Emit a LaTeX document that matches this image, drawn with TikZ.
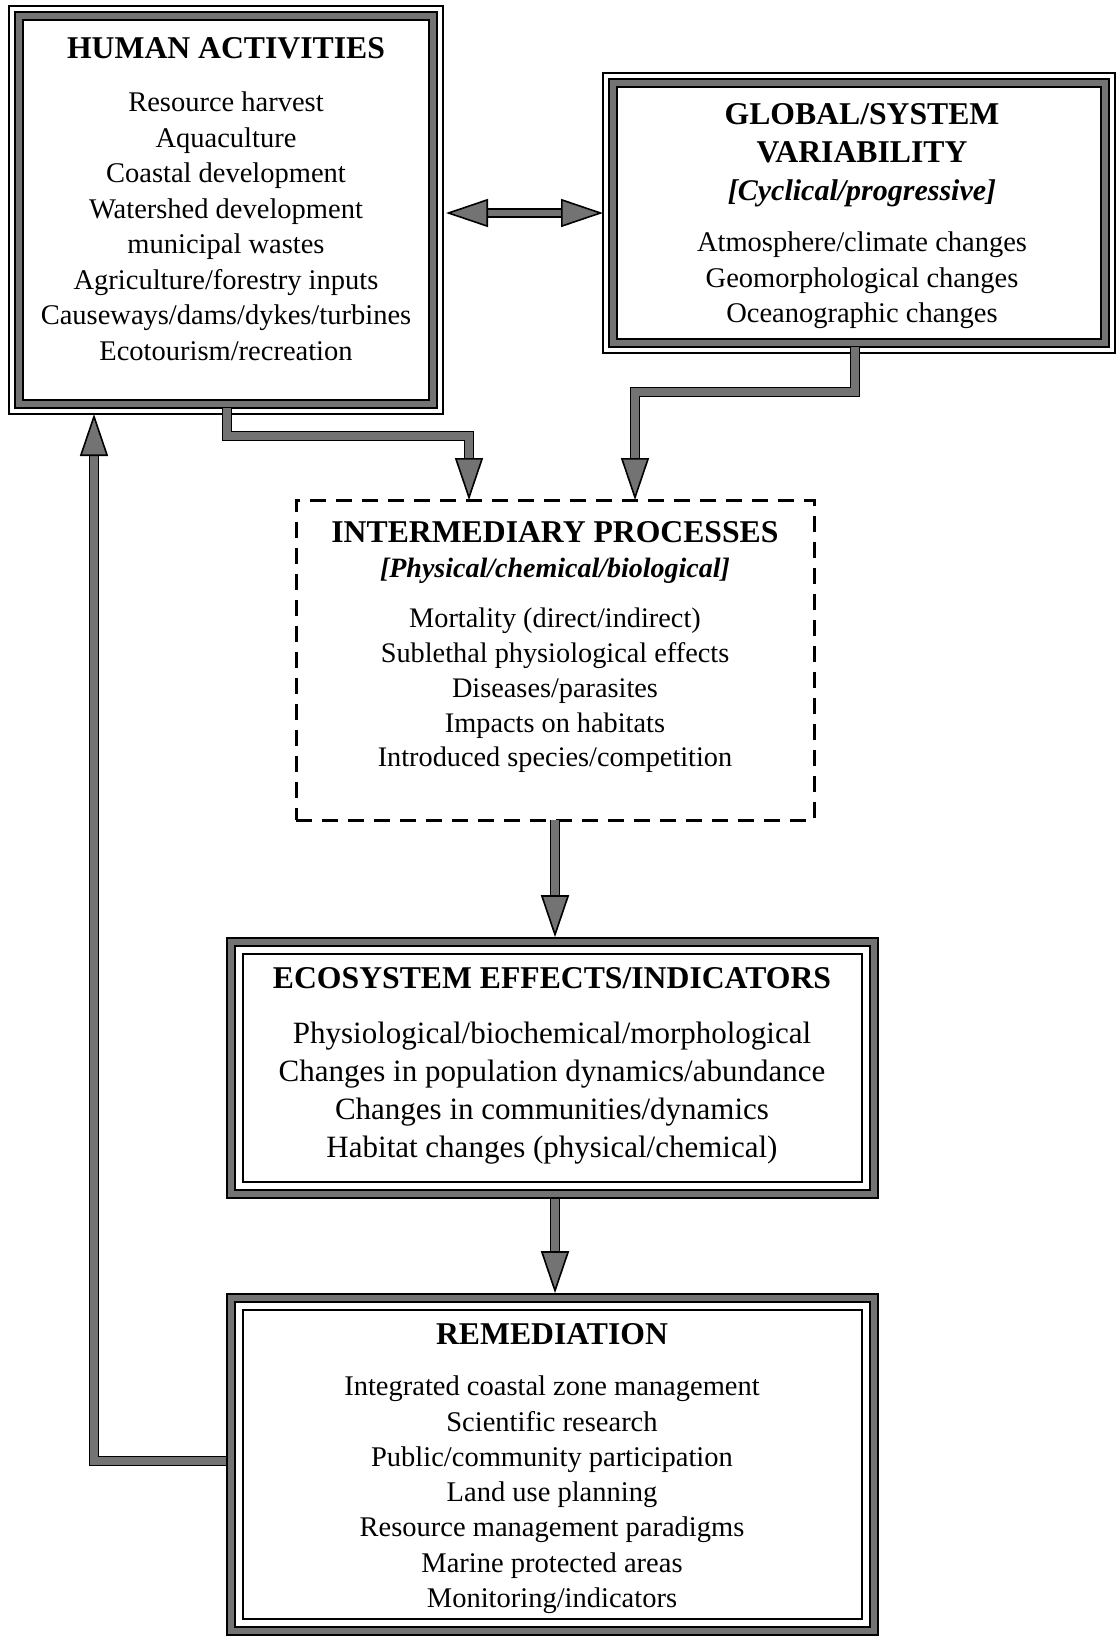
\documentclass[tikz,border=0pt]{standalone}
\usepackage{fontspec}
\setmainfont{Liberation Serif}
\usetikzlibrary{arrows.meta,calc}
\definecolor{bandgray}{rgb}{0.45,0.45,0.45}
\tikzset{mytip/.tip={Triangle[length=42pt 0 0, width=28pt 0 0, fill=bandgray, color=black, line width=1.6pt]}}
\begin{document}
\begin{tikzpicture}[x=1pt,y=-1pt,
  thinbox/.style={draw, line width=1.4pt, inner sep=0pt, outer sep=0pt},
  bandbox/.style={draw=black, line width=1.6pt, double=bandgray, double distance=6.5pt, inner sep=0pt, outer sep=4.8pt},
  band/.style={draw=black, line width=1.6pt, double=bandgray, double distance=6.5pt},
  thinline/.style={draw=black, line width=1.4pt},
  dashbox/.style={draw=black, line width=3pt, dash pattern=on 16pt off 10pt, inner sep=0pt, outer sep=0pt},
  conn/.style={draw=black, line width=1.6pt, double=bandgray, double distance=7.5pt, -{mytip}},
  dconn/.style={draw=black, line width=1.6pt, double=bandgray, double distance=6.5pt, {mytip}-{mytip}},
  ttl/.style={font=\fontsize{31.7}{38.5}\selectfont\bfseries, anchor=base, align=center, inner sep=0pt},
  sub/.style={font=\bfseries\itshape, anchor=base, inner sep=0pt},
  body/.style={font=\fontsize{28.5}{35.5}\selectfont, anchor=base, align=center, inner sep=0pt},
]
\useasboundingbox (0,0) rectangle (1117,1638);

% ---------- boxes ----------
\node[thinbox, minimum width=434pt, minimum height=408pt] (human) at (226,210) {};
\draw[band] (19,16) rectangle (433,404);

\node[thinbox, minimum width=512pt, minimum height=280pt] (global) at (859,213) {};
\draw[band] (613,83) rectangle (1105,343);

\node[dashbox, minimum width=518pt, minimum height=320pt] (inter) at (555,660) {};

\node[bandbox, minimum width=643pt, minimum height=252pt] (eco) at (552.5,1068) {};
\draw[thinline] (243,954) rectangle (862,1182);

\node[bandbox, minimum width=643pt, minimum height=333pt] (rem) at (552.5,1464.5) {};
\draw[thinline] (243,1310) rectangle (862,1619);

% ---------- texts (anchor = baseline of last line) ----------
\node[ttl] (humant) at (226,58) {HUMAN ACTIVITIES};
\node[body] (humanb) at (226,360) {Resource harvest\\Aquaculture\\Coastal development\\Watershed development\\municipal wastes\\Agriculture/forestry inputs\\Causeways/dams/dykes/turbines\\Ecotourism/recreation};

\node[ttl] (globalt) at (862,162.5) {GLOBAL/SYSTEM\\VARIABILITY};
\node[sub, font=\fontsize{30}{36}\selectfont\bfseries\itshape] (globals) at (862,200) {[Cyclical/progressive]};
\node[body] (globalb) at (862,322.5) {Atmosphere/climate changes\\Geomorphological changes\\Oceanographic changes};

\node[ttl] (intert) at (555,542) {INTERMEDIARY PROCESSES};
\node[sub, font=\fontsize{28}{34}\selectfont\bfseries\itshape] (inters) at (555,577.5) {[Physical/chemical/biological]};
\node[body, font=\fontsize{28.3}{34.8}\selectfont] (interb) at (555,766.8) {Mortality (direct/indirect)\\Sublethal physiological effects\\Diseases/parasites\\Impacts on habitats\\Introduced species/competition};

\node[ttl] (ecot) at (552,988) {ECOSYSTEM EFFECTS/INDICATORS};
\node[body, font=\fontsize{31}{38}\selectfont] (ecob) at (552,1157) {Physiological/biochemical/morphological\\Changes in population dynamics/abundance\\Changes in communities/dynamics\\Habitat changes (physical/chemical)};

\node[ttl] (remt) at (552,1344.5) {REMEDIATION};
\node[body, font=\fontsize{28.5}{35.3}\selectfont] (remb) at (552,1607.5) {Integrated coastal zone management\\Scientific research\\Public/community participation\\Land use planning\\Resource management paradigms\\Marine protected areas\\Monitoring/indicators};

% ---------- connectors ----------
\coordinate (fbx) at (94,0);
\draw[dconn, shorten <=3pt] (human.east |- global.west) -- (global.west);
\draw[conn] ($(human.south)+(1,-6)$) -- ++(0,28) -| ($(inter.north)+(-86,0)$);
\draw[conn] ($(global.south)+(-4,-6)$) -- ++(0,45) -| ($(inter.north)+(80,0)$);
\draw[conn] (inter.south) -- (inter.south |- eco.north);
\draw[conn] (eco.south -| inter.south) -- (inter.south |- rem.north);
\draw[conn] ([yshift=3.5pt]rem.west) -| (human.south -| fbx);
\end{tikzpicture}
\end{document}
